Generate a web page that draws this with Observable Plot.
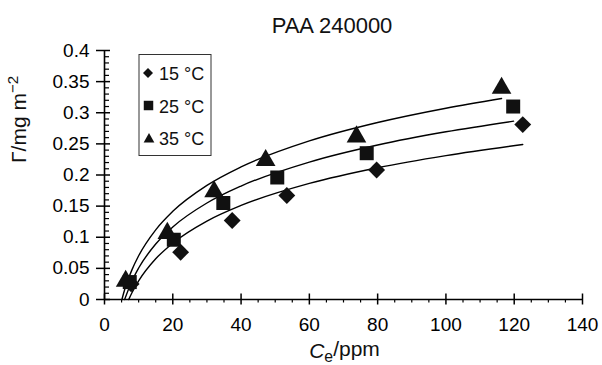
<!DOCTYPE html>
<html><head><meta charset="utf-8">
<script src="https://cdn.jsdelivr.net/npm/d3@7"></script>
<script src="https://cdn.jsdelivr.net/npm/@observablehq/plot@0.6"></script>
<style>
body{margin:0;background:#fff;}
svg{font-family:"Liberation Sans",Arial,Helvetica,sans-serif;}
</style>
</head><body><div id="chart"></div>
<script>
const title = "PAA 240000";
const seriesNames = ["15 °C", "25 °C", "35 °C"];
const xLabel = "Ce/ppm";
const yLabel = "Γ/mg m−2";

// measured points
const x15 = [7.8, 22.3, 37.4, 53.4, 79.7, 122.5];
const y15 = [0.025, 0.076, 0.127, 0.167, 0.208, 0.281];
const x25 = [7.4, 20.3, 34.8, 50.6, 76.8, 119.7];
const y25 = [0.028, 0.096, 0.155, 0.196, 0.235, 0.310];
const x35 = [6.2, 18.4, 32.1, 47.2, 73.8, 116.3];
const y35 = [0.034, 0.111, 0.178, 0.228, 0.266, 0.344];

// trend curves
const fit15X = [7.1, 8, 10, 15, 20, 30, 40, 60, 80, 100, 122.5];
const fit15Y = [0, 0.0104, 0.0299, 0.0654, 0.0905, 0.1260, 0.1511, 0.1865, 0.2117, 0.2312, 0.249];
const fit25X = [5.9, 8, 10, 15, 20, 30, 40, 60, 80, 100, 119.8];
const fit25Y = [0, 0.0294, 0.0506, 0.0891, 0.1165, 0.1550, 0.1823, 0.2208, 0.2482, 0.2694, 0.2865];
const fit35X = [5.1, 6, 8, 10, 15, 20, 30, 40, 60, 80, 100, 116.3];
const fit35Y = [0, 0.0176, 0.0472, 0.0702, 0.1119, 0.1416, 0.1833, 0.2130, 0.2547, 0.2843, 0.3073, 0.3229];

const xTicks = [0, 20, 40, 60, 80, 100, 120, 140];
const yTicks = [0, 0.05, 0.1, 0.15, 0.2, 0.25, 0.3, 0.35, 0.4];

const xMinor = d3.range(0, 141, 5).filter(v => v % 20 !== 0);
const yMinor = d3.range(0, 41, 1).filter(v => v % 5 !== 0).map(v => v / 100);

const toRows = (xs, ys, s) => xs.map((x, i) => ({x, y: ys[i], s}));
const p15 = toRows(x15, y15, seriesNames[0]);
const p25 = toRows(x25, y25, seriesNames[1]);
const p35 = toRows(x35, y35, seriesNames[2]);
const f15 = toRows(fit15X, fit15Y, seriesNames[0]);
const f25 = toRows(fit25X, fit25Y, seriesNames[1]);
const f35 = toRows(fit35X, fit35Y, seriesNames[2]);

const ink = "#111";
const fmtY = d => String(+d.toFixed(2));

const chart = Plot.plot({
  width: 602,
  height: 365,
  marginLeft: 104,
  marginRight: 20,
  marginTop: 50,
  marginBottom: 66,
  style: {background: "#fff", color: "#000"},
  x: {domain: [0, 140], label: null},
  y: {domain: [0, 0.4], label: null},
  marks: [
    // tick labels only
    Plot.axisY(yTicks, {tickSize: 0, tickPadding: 15, fontSize: 19, tickFormat: fmtY}),
    Plot.axisX(xTicks, {tickSize: 0, tickPadding: 18, fontSize: 19}),
    // tick marks as short rules on the axes
    Plot.ruleY(yTicks, {x1: 0, x2: 0, insetLeft: -8, insetRight: -6, stroke: "#000", strokeWidth: 1.5}),
    Plot.ruleY(yMinor, {x1: 0, x2: 0, insetLeft: 0, insetRight: -5, stroke: "#000", strokeWidth: 1.2}),
    Plot.ruleX(xTicks, {y1: 0, y2: 0, insetTop: -5.5, insetBottom: -5.5, stroke: "#000", strokeWidth: 1.5}),
    Plot.ruleX(xMinor, {y1: 0, y2: 0, insetTop: 0, insetBottom: -3.5, stroke: "#000", strokeWidth: 1.2}),
    // axis lines
    Plot.ruleX([0], {stroke: "#000", strokeWidth: 1.6}),
    Plot.ruleY([0], {stroke: "#000", strokeWidth: 1.6}),
    // trend curves
    Plot.line(f15, {x: "x", y: "y", curve: "monotone-x", stroke: "#000", strokeWidth: 1.4}),
    Plot.line(f25, {x: "x", y: "y", curve: "monotone-x", stroke: "#000", strokeWidth: 1.4}),
    Plot.line(f35, {x: "x", y: "y", curve: "monotone-x", stroke: "#000", strokeWidth: 1.4}),
    // data
    Plot.dot(p15, {x: "x", y: "y", symbol: "diamond2", r: 7.6, fill: ink, stroke: null}),
    Plot.dot(p25, {x: "x", y: "y", symbol: "square", r: 7.9, fill: ink, stroke: null}),
    Plot.dot(p35, {x: "x", y: "y", symbol: "triangle", r: 7.3, fill: ink, stroke: null, dy: 2.8}),
    // titles
    Plot.text([title], {frameAnchor: "top", lineAnchor: "bottom", dy: -18, dx: -11.5, fontSize: 22, fill: "#111"}),
    Plot.text([xLabel], {frameAnchor: "bottom", lineAnchor: "bottom", dy: 58, dx: 1, fontSize: 21, fill: "#111"}),
    Plot.text([yLabel], {frameAnchor: "left", lineAnchor: "middle", rotate: -90, dx: -85, dy: -12, fontSize: 21, fill: "#111"})
  ]
});

const svg = d3.select(chart);
// rich text for axis titles
svg.selectAll("text").filter(function () { return this.textContent === xLabel; }).each(function () {
  const t = d3.select(this); t.text("");
  t.append("tspan").attr("font-style", "italic").text("C");
  t.append("tspan").attr("font-size", "75%").attr("dy", "0.3em").text("e");
  t.append("tspan").attr("dy", "-0.3em").text("/ppm");
});
svg.selectAll("text").filter(function () { return this.textContent === yLabel; }).each(function () {
  const t = d3.select(this); t.text("");
  t.append("tspan").text("Γ/mg m");
  t.append("tspan").attr("font-size", "72%").attr("dy", "-0.55em").text("−2");
});

// legend
const lg = svg.append("g").attr("font-size", 18).attr("fill", "#111").attr("text-anchor", "start");
lg.append("rect").attr("x", 139).attr("y", 54.5).attr("width", 72).attr("height", 101)
  .attr("fill", "#fff").attr("stroke", "#333").attr("stroke-width", 1);
const legendSyms = [
  {sym: d3.symbolDiamond2, size: 64, cx: 148, cy: 73},
  {sym: d3.symbolSquare, size: 90, cx: 148.5, cy: 105.5},
  {sym: d3.symbolTriangle, size: 50, cx: 149, cy: 139.3}
];
const baselines = [80, 113, 145];
seriesNames.forEach((name, i) => {
  const s = legendSyms[i];
  lg.append("path").attr("d", d3.symbol(s.sym, s.size)())
    .attr("transform", `translate(${s.cx},${s.cy})`).attr("fill", ink);
  lg.append("text").attr("x", 159).attr("y", baselines[i]).text(name);
});

document.getElementById("chart").appendChild(chart);
</script>
</body></html>
